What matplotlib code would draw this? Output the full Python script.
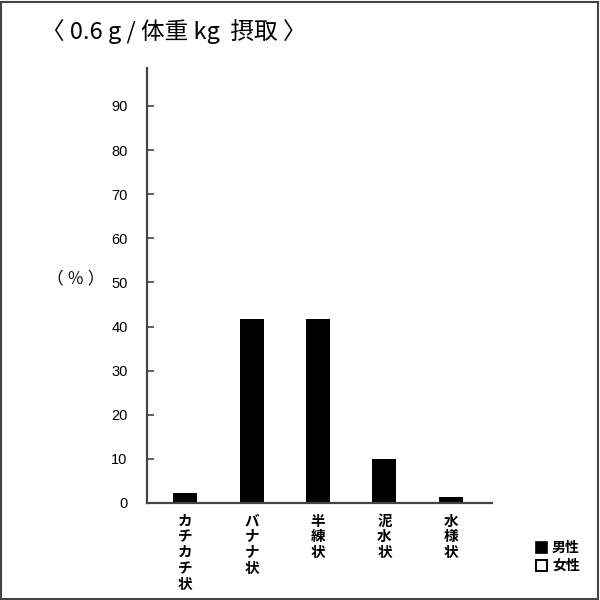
import matplotlib
matplotlib.use('Agg')
import matplotlib.pyplot as plt
from matplotlib.patches import Rectangle

plt.rcParams['font.family'] = ['Noto Sans CJK JP', 'DejaVu Sans']

# Data
categories = ['カチカチ状', 'バナナ状', '半練状', '泥水状', '水様状']
male_pct = [2.3, 41.7, 41.7, 10.0, 1.4]
yticks = [0, 10, 20, 30, 40, 50, 60, 70, 80, 90]
title = '〈 0.6 g / 体重 kg  摂取 〉'

fig = plt.figure(figsize=(6, 6), dpi=100)
ax = fig.add_axes([0.245, 0.1617, 0.575, 0.725])

x = list(range(len(categories)))
ax.bar(x, male_pct, width=0.36, color='black')

ax.set_xlim(-0.576, 4.62)
ax.set_ylim(0, 98.6)
ax.set_yticks(yticks)
ax.set_yticklabels([str(v) for v in yticks], fontsize=10.5, family='Liberation Sans')
ax.tick_params(axis='y', direction='in', length=5, width=1.2, color='#444444', pad=14)
ax.set_xticks([])

for s in ['top', 'right']:
    ax.spines[s].set_visible(False)
for s in ['left', 'bottom']:
    ax.spines[s].set_color('#444444')
    ax.spines[s].set_linewidth(1.6)

# vertical (stacked) category labels
for xi, name in zip(x, categories):
    ax.text(xi, -2.2, '\n'.join(name), ha='center', va='top', fontsize=10.5,
            fontweight='bold', linespacing=0.98)

fig.text(0.078, 0.535, '（ ％ ）', fontsize=12, va='center', ha='left')
fig.text(0.068, 0.948, title, fontsize=17, va='center', ha='left')

# legend
fig.patches.append(Rectangle((0.893, 0.078), 0.018, 0.018, transform=fig.transFigure,
                             facecolor='black', edgecolor='black', lw=1.2))
fig.patches.append(Rectangle((0.893, 0.048), 0.018, 0.018, transform=fig.transFigure,
                             facecolor='white', edgecolor='black', lw=1.4))
fig.text(0.92, 0.087, '男性', fontsize=10, fontweight='bold', va='center', ha='left')
fig.text(0.92, 0.057, '女性', fontsize=10, fontweight='bold', va='center', ha='left')

# figure frame
fig.patches.append(Rectangle((0.002, 0.002), 0.995, 0.995, transform=fig.transFigure,
                             facecolor='none', edgecolor='#444444', lw=1.5))

fig.savefig('out.png', dpi=100)
